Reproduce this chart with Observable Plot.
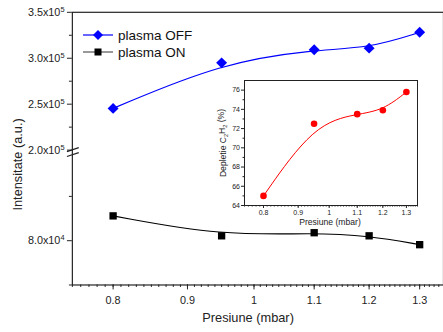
<!DOCTYPE html>
<html><head><meta charset="utf-8">
<script src="https://cdn.jsdelivr.net/npm/d3@7"></script>
<script src="https://cdn.jsdelivr.net/npm/@observablehq/plot@0.6"></script>
<style>
html,body{margin:0;padding:0;background:#fff;overflow:hidden;width:443px;height:332px}
#wrap{position:relative;width:443px;height:332px;overflow:hidden;font-family:"Liberation Sans",Arial,sans-serif}
#main{position:absolute;left:0;top:0}
#inset{position:absolute;left:208px;top:72px}
#legend{position:absolute;left:0;top:0}
</style></head><body>
<div id="wrap"><div id="main"></div><div id="inset"></div><svg id="legend" width="200" height="70"></svg></div>
<script>
// ---- data ----
const pressure = [0.8, 0.95, 1.1, 1.2, 1.3];
const plasmaOff = [245400, 295000, 309300, 311000, 328200];
const plasmaOn = [85600, 81100, 81800, 81100, 79100];
const depletion = [65.0, 72.5, 73.5, 73.9, 75.8];
const xTicks = [0.8, 0.9, 1, 1.1, 1.2, 1.3];
const yTicks = [80000, 200000, 250000, 300000, 350000];
const yMinor = [70000, 90000, 225000, 275000, 325000];
const insetYTicks = [64, 66, 68, 70, 72, 74, 76];
const insetYMinor = [65, 67, 69, 71, 73, 75];
const xMinor = d3.range(75, 136).map(i => i / 100);
const seriesNames = ["plasma OFF", "plasma ON"];

const rows = pressure.map((p, i) => ({p, off: plasmaOff[i], on: plasmaOn[i], dep: depletion[i]}));
const font = "'Liberation Sans', Arial, sans-serif";
const ink = "#222";
const fmt = d => { const e = d >= 1e5 ? 5 : 4; return (d / 10 ** e).toFixed(1) + "x10^" + e; };

const main = Plot.plot({
  width: 450, height: 332,
  marginLeft: 73, marginRight: 0, marginTop: 12, marginBottom: 43,
  style: {fontFamily: font, background: "transparent", color: ink},
  x: {type: "log", domain: [0.75, 1.35]},
  y: {type: "linear", domain: [70000, 100000, 200000, 350000], range: [289, 154, 152, 12]},
  marks: [
    Plot.frame({stroke: ink, strokeWidth: 1.2}),
    Plot.axisX({ticks: xMinor, tickSize: 2.5, tickFormat: () => "", label: null, stroke: ink}),
    Plot.axisX({ticks: xTicks, tickSize: 5, tickFormat: () => "", label: null, stroke: ink}),
    Plot.text(xTicks, {x: d => d, frameAnchor: "bottom", dy: 11, lineAnchor: "top", text: d => String(d), fontSize: 11, fill: ink}),
    Plot.axisY({ticks: yMinor, tickSize: 3, tickFormat: () => "", label: null, stroke: ink}),
    Plot.axisY({ticks: yTicks, tickSize: 5, tickPadding: 3, tickFormat: fmt, fontSize: 11, label: null, stroke: ink, fill: ink}),
    Plot.line(rows, {x: "p", y: "off", curve: "basis", stroke: "#0000ff", strokeWidth: 1.2}),
    Plot.dot(rows, {x: "p", y: "off", symbol: "diamond2", r: 5, fill: "#0000ff", stroke: "none"}),
    Plot.line(rows, {x: "p", y: "on", curve: "basis", stroke: "#000", strokeWidth: 1.2}),
    Plot.dot(rows, {x: "p", y: "on", symbol: "square", r: 4.2, fill: "#000", stroke: "none"})
  ]
});
document.getElementById("main").appendChild(main);

const ms = d3.select(main);
// superscript exponents in y tick labels
ms.selectAll("text").each(function () {
  const t = this.textContent;
  const m = /^(.*x10)\^(\d)$/.exec(t);
  if (m) {
    const el = d3.select(this);
    el.text(m[1]);
    el.append("tspan").attr("font-size", 7.5).attr("dy", "-0.5em").text(m[2]);
  }
});
const yb = (main.scale("y").apply(1e5) + main.scale("y").apply(2e5)) / 2;
ms.append("line").attr("x1", 68).attr("y1", yb + 1).attr("x2", 80).attr("y2", yb - 3).attr("stroke", ink).attr("stroke-width", 1.2);
ms.append("line").attr("x1", 68).attr("y1", yb + 6).attr("x2", 80).attr("y2", yb + 2).attr("stroke", ink).attr("stroke-width", 1.2);
ms.append("text").attr("x", 252).attr("y", 323).attr("dy", "0.35em").attr("text-anchor", "middle")
  .attr("font-size", 13).attr("fill", ink).attr("font-family", font).text("Presiune (mbar)");
ms.append("text").attr("transform", "translate(18,167) rotate(-90)").attr("dy", "0.35em").attr("text-anchor", "middle")
  .attr("font-size", 13).attr("fill", ink).attr("font-family", font).text("Intensitate (a.u.)");

// legend
const lg = d3.select("#legend");
const legendItems = [
  {name: seriesNames[0], color: "#0000ff", sym: "diamond", y: 35},
  {name: seriesNames[1], color: "#000", sym: "square", y: 52}
];
legendItems.forEach(it => {
  lg.append("line").attr("x1", 83).attr("x2", 113).attr("y1", it.y).attr("y2", it.y)
    .attr("stroke", it.color === "#000" ? "#555" : it.color).attr("stroke-width", 1.2);
  if (it.sym === "diamond") {
    lg.append("path").attr("d", `M98,${it.y - 5}L103,${it.y}L98,${it.y + 5}L93,${it.y}Z`).attr("fill", it.color);
  } else {
    lg.append("rect").attr("x", 94.5).attr("y", it.y - 3.5).attr("width", 7).attr("height", 7).attr("fill", it.color);
  }
  lg.append("text").attr("x", 118).attr("y", it.y).attr("dy", "0.35em").attr("font-size", 13.5)
    .attr("fill", "#111").attr("font-family", font).text(it.name);
});

// inset
const inset = Plot.plot({
  width: 215, height: 165,
  marginLeft: 36, marginRight: 6, marginTop: 8, marginBottom: 32,
  style: {fontFamily: font, background: "transparent", color: ink},
  x: {type: "log", domain: [0.75, 1.35]},
  y: {domain: [64, 77]},
  marks: [
    Plot.frame({stroke: ink, strokeWidth: 1}),
    Plot.axisX({ticks: xMinor, tickSize: 1.5, tickFormat: () => "", label: null, stroke: ink}),
    Plot.axisX({ticks: xTicks, tickSize: 3, tickFormat: () => "", label: null, stroke: ink}),
    Plot.text(xTicks, {x: d => d, frameAnchor: "bottom", dy: 5, lineAnchor: "top", text: d => String(d), fontSize: 7, fill: ink}),
    Plot.axisY({ticks: insetYMinor, tickSize: 1.5, tickFormat: () => "", label: null, stroke: ink}),
    Plot.axisY({ticks: insetYTicks, tickSize: 3, tickPadding: 1.5, fontSize: 7, label: null, stroke: ink, fill: ink}),
    Plot.line(rows, {x: "p", y: "dep", curve: "basis", stroke: "#ff0000", strokeWidth: 1}),
    Plot.dot(rows, {x: "p", y: "dep", r: 3.3, fill: "#ff0000", stroke: "none"})
  ]
});
document.getElementById("inset").appendChild(inset);
const is = d3.select(inset);
is.append("text").attr("x", 122).attr("y", 150).attr("dy", "0.35em").attr("text-anchor", "middle")
  .attr("font-size", 8.6).attr("fill", ink).attr("font-family", font).text("Presiune (mbar)");
const yl = is.append("text").attr("transform", "translate(15,71) rotate(-90)").attr("dy", "0.35em").attr("text-anchor", "middle")
  .attr("font-size", 8.6).attr("fill", ink).attr("font-family", font);
yl.append("tspan").text("Depletie C");
yl.append("tspan").attr("font-size", 5.5).attr("dy", "0.3em").text("2");
yl.append("tspan").attr("dy", "-0.3em").text("H");
yl.append("tspan").attr("font-size", 5.5).attr("dy", "0.3em").text("2");
yl.append("tspan").attr("dy", "-0.3em").text(" (%)");
</script></body></html>
